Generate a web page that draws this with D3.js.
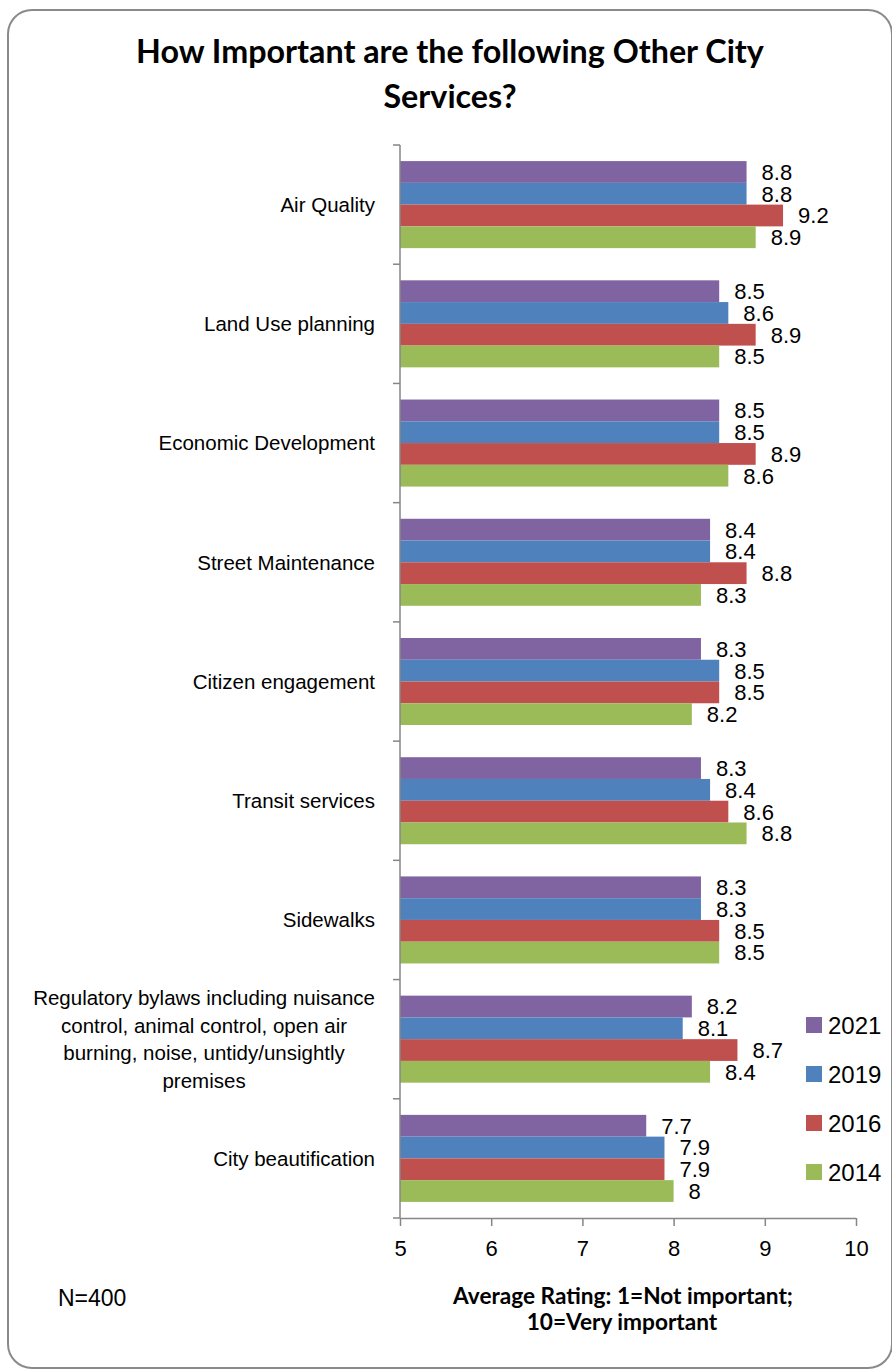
<!DOCTYPE html>
<html>
<head>
<meta charset="utf-8">
<script src="https://cdn.jsdelivr.net/npm/d3@7"></script>
<style>
  html, body { margin: 0; padding: 0; background: #fff; }
  svg { display: block; }
</style>
</head>
<body>
<svg id="chart" width="892" height="1372"></svg>
<script>
// Service categories, top to bottom
const categories = [
  "Air Quality",
  "Land Use planning",
  "Economic Development",
  "Street Maintenance",
  "Citizen engagement",
  "Transit services",
  "Sidewalks",
  "Regulatory bylaws including nuisance|control, animal control, open air|burning, noise, untidy/unsightly|premises",
  "City beautification"
];

// Survey years, in the order drawn inside each group
const years = ["2021", "2019", "2016", "2014"];

// Average ratings per year, aligned with categories
const values2021 = [8.8, 8.5, 8.5, 8.4, 8.3, 8.3, 8.3, 8.2, 7.7];
const values2019 = [8.8, 8.6, 8.5, 8.4, 8.5, 8.4, 8.3, 8.1, 7.9];
const values2016 = [9.2, 8.9, 8.9, 8.8, 8.5, 8.6, 8.5, 8.7, 7.9];
const values2014 = [8.9, 8.5, 8.6, 8.3, 8.2, 8.8, 8.5, 8.4, 8.0];

const xTicks = [5, 6, 7, 8, 9, 10];

const colors = { "2021": "#8064A2", "2019": "#4F81BD", "2016": "#C0504D", "2014": "#9BBB59" };
const seriesByYear = { "2021": values2021, "2019": values2019, "2016": values2016, "2014": values2014 };

const svg = d3.select("#chart");
const W = 892, H = 1372;

// Outer frame
svg.append("rect")
  .attr("x", 8).attr("y", 10)
  .attr("width", 884).attr("height", 1358)
  .attr("rx", 24).attr("ry", 24)
  .attr("fill", "#fff")
  .attr("stroke", "#8a8a8a")
  .attr("stroke-width", 2);

// Fit a text element to a target width by adjusting its font size
function fitWidth(sel, target) {
  const node = sel.node();
  const fs = parseFloat(sel.attr("font-size"));
  const w = node.getComputedTextLength();
  sel.attr("font-size", (fs * target / w).toFixed(2));
}

// Title
const titleFont = "Lato, 'Open Sans', sans-serif";
const t1 = svg.append("text")
  .attr("x", 450).attr("y", 63)
  .attr("text-anchor", "middle")
  .attr("font-family", titleFont).attr("font-weight", "bold")
  .attr("font-size", 28).attr("fill", "#000")
  .text("How Important are the following Other City");
fitWidth(t1, 628);
const t2 = svg.append("text")
  .attr("x", 450).attr("y", 108)
  .attr("text-anchor", "middle")
  .attr("font-family", titleFont).attr("font-weight", "bold")
  .attr("font-size", t1.attr("font-size")).attr("fill", "#000")
  .text("Services?");

// Plot area
const plotLeft = 400, plotRight = 856, plotTop = 145, plotBottom = 1218;

const x = d3.scaleLinear().domain([5, 10]).range([plotLeft, plotRight]);
const y = d3.scaleBand().domain(categories).range([plotTop, plotBottom]).paddingInner(0.27).paddingOuter(0.135);
const yInner = d3.scaleBand().domain(years).range([0, y.bandwidth()]);

const axisColor = "#868686";
const labelFont = "'Liberation Sans', Arial, sans-serif";

// Bars
const groups = svg.append("g").selectAll("g")
  .data(categories)
  .join("g")
  .attr("transform", d => `translate(0,${y(d)})`);

groups.selectAll("rect")
  .data((d, i) => years.map(yr => ({ year: yr, value: seriesByYear[yr][i] })))
  .join("rect")
  .attr("x", x(5))
  .attr("y", d => yInner(d.year))
  .attr("width", d => x(d.value) - x(5))
  .attr("height", yInner.bandwidth())
  .attr("fill", d => colors[d.year]);

// Value labels
groups.selectAll("text")
  .data((d, i) => years.map(yr => ({ year: yr, value: seriesByYear[yr][i] })))
  .join("text")
  .attr("x", d => x(d.value) + 15)
  .attr("y", d => yInner(d.year) + yInner.bandwidth() / 2)
  .attr("dy", "0.36em")
  .attr("font-family", labelFont)
  .attr("font-size", 22)
  .attr("fill", "#000")
  .text(d => String(d.value));

// Y axis with ticks at band boundaries
const yAxisG = svg.append("g");
yAxisG.append("line")
  .attr("x1", plotLeft).attr("x2", plotLeft)
  .attr("y1", plotTop).attr("y2", plotBottom)
  .attr("stroke", axisColor).attr("stroke-width", 1.5);
const step = y.step();
const boundaries = d3.range(categories.length + 1).map(i => plotTop + i * (plotBottom - plotTop) / categories.length);
yAxisG.selectAll("line.tick")
  .data(boundaries)
  .join("line")
  .attr("class", "tick")
  .attr("x1", plotLeft - 7).attr("x2", plotLeft)
  .attr("y1", d => d).attr("y2", d => d)
  .attr("stroke", axisColor).attr("stroke-width", 1.5);

// Category labels, wrapped lines centred on their widest line, right edge at 375
const catG = svg.append("g");
categories.forEach(cat => {
  const lines = cat.split("|");
  const cy = y(cat) + y.bandwidth() / 2;
  const lh = 27.5;
  const g = catG.append("g");
  const texts = lines.map((ln, i) => g.append("text")
    .attr("y", cy + (i - (lines.length - 1) / 2) * lh)
    .attr("dy", "0.36em")
    .attr("font-family", labelFont)
    .attr("font-size", 20.5)
    .attr("fill", "#000")
    .attr("text-anchor", "middle")
    .text(ln));
  const maxW = d3.max(texts, t => t.node().getComputedTextLength());
  texts.forEach(t => t.attr("x", 375 - maxW / 2));
});

// X axis
const xAxis = d3.axisBottom(x).tickValues(xTicks).tickSize(8).tickPadding(14).tickFormat(d3.format("d"));
const xAxisG = svg.append("g").attr("transform", `translate(0,${plotBottom})`).call(xAxis);
xAxisG.select(".domain").attr("stroke", axisColor).attr("stroke-width", 1.5).attr("d", `M${plotLeft},0.5H${plotRight}`);
xAxisG.selectAll(".tick line").attr("stroke", axisColor).attr("stroke-width", 1.5);
xAxisG.selectAll(".tick text")
  .attr("font-family", labelFont).attr("font-size", 22).attr("fill", "#000");

// Legend
const legend = svg.append("g");
const legendY = [1025, 1074, 1123, 1172];
years.forEach((yr, i) => {
  legend.append("rect")
    .attr("x", 806).attr("y", legendY[i] - 8)
    .attr("width", 16).attr("height", 16)
    .attr("fill", colors[yr]);
  legend.append("text")
    .attr("x", 828).attr("y", legendY[i])
    .attr("dy", "0.36em")
    .attr("font-family", labelFont).attr("font-size", 24)
    .attr("fill", "#000")
    .text(yr);
});

// Sample size note
svg.append("text")
  .attr("x", 58).attr("y", 1306)
  .attr("font-family", labelFont).attr("font-size", 23).attr("fill", "#000")
  .text("N=400");

// Axis title
const a1 = svg.append("text")
  .attr("x", 623).attr("y", 1304)
  .attr("text-anchor", "middle")
  .attr("font-family", titleFont).attr("font-weight", "bold")
  .attr("font-size", 21).attr("fill", "#000")
  .text("Average Rating: 1=Not important;");
fitWidth(a1, 340);
svg.append("text")
  .attr("x", 622).attr("y", 1330)
  .attr("text-anchor", "middle")
  .attr("font-family", titleFont).attr("font-weight", "bold")
  .attr("font-size", a1.attr("font-size")).attr("fill", "#000")
  .text("10=Very important");
</script>
</body>
</html>
